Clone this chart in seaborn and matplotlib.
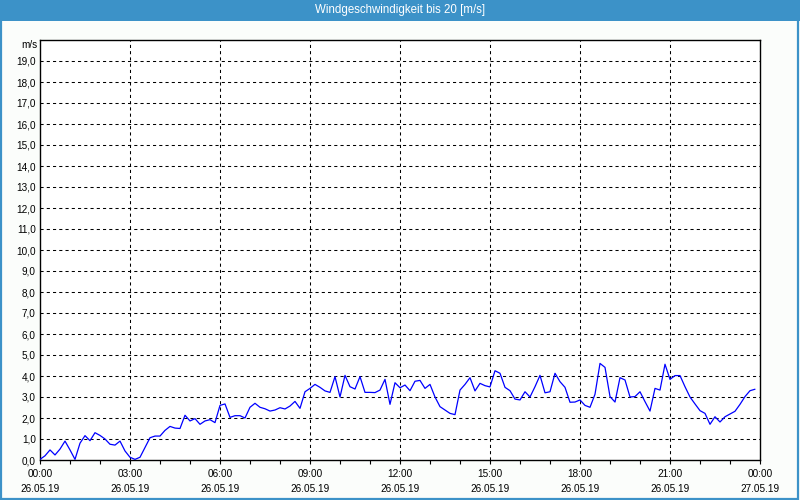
import numpy as np
import pandas as pd
import matplotlib
matplotlib.use("Agg")
import matplotlib.pyplot as plt
import seaborn as sns
from matplotlib.patches import Rectangle

# ---------------- data ----------------
title = "Windgeschwindigkeit bis 20 [m/s]"
unit_label = "m/s"
times = pd.date_range("2019-05-26 00:00", periods=144, freq="10min")
speed = [
    0.03, 0.20, 0.48, 0.24, 0.52, 0.90, 0.48, 0.03, 0.80, 1.16,
    0.92, 1.30, 1.17, 1.00, 0.75, 0.71, 0.90, 0.43, 0.13, 0.03,
    0.13, 0.60, 1.06, 1.14, 1.14, 1.41, 1.60, 1.52, 1.50, 2.13,
    1.86, 1.97, 1.70, 1.86, 1.92, 1.78, 2.60, 2.67, 2.03, 2.11,
    2.11, 2.00, 2.51, 2.70, 2.51, 2.44, 2.33, 2.38, 2.49, 2.43,
    2.57, 2.79, 2.46, 3.25, 3.41, 3.60, 3.46, 3.29, 3.22, 3.97,
    3.00, 4.03, 3.49, 3.38, 3.97, 3.22, 3.22, 3.21, 3.33, 3.84,
    2.65, 3.68, 3.44, 3.57, 3.30, 3.75, 3.79, 3.41, 3.60, 3.00,
    2.54, 2.38, 2.22, 2.16, 3.33, 3.60, 3.92, 3.29, 3.65, 3.54,
    3.48, 4.25, 4.13, 3.46, 3.30, 2.90, 2.86, 3.25, 3.00, 3.49,
    4.03, 3.20, 3.25, 4.13, 3.73, 3.46, 2.75, 2.76, 2.86, 2.60,
    2.51, 3.13, 4.60, 4.41, 3.02, 2.76, 3.92, 3.81, 3.00, 3.02,
    3.25, 2.78, 2.33, 3.41, 3.33, 4.56, 3.84, 4.02, 4.02, 3.49,
    3.00, 2.67, 2.35, 2.22, 1.70, 2.06, 1.81, 2.06, 2.19, 2.32,
    2.65, 3.02, 3.30, 3.37,
]
x_tick_hours = [0, 3, 6, 9, 12, 15, 18, 21, 24]
x_tick_labels = [
    "00:00\n26.05.19", "03:00\n26.05.19", "06:00\n26.05.19",
    "09:00\n26.05.19", "12:00\n26.05.19", "15:00\n26.05.19",
    "18:00\n26.05.19", "21:00\n26.05.19", "00:00\n27.05.19",
]
y_ticks = list(range(0, 20))
y_tick_labels = [f"{v},0" for v in y_ticks]

df = pd.DataFrame({
    "hour": (times - times[0]).total_seconds() / 3600.0,
    "speed": speed,
})

# ---------------- figure ----------------
sns.set_theme(style="white")
plt.rcParams["font.family"] = ["Liberation Sans", "DejaVu Sans"]

W, H = 800, 500
fig = plt.figure(figsize=(8, 5), dpi=100, facecolor="#fbfdfb")
blue = "#3c92c8"

# title bar
fig.patches.append(Rectangle((0, 1 - 21 / H), 1, 21 / H, transform=fig.transFigure,
                             facecolor=blue, edgecolor="none", zorder=0))
# outer border
fig.patches.append(Rectangle((0.5 / W, 1 / H), 1 - 2.5 / W, 1 - 2 / H,
                             transform=fig.transFigure, facecolor="none",
                             edgecolor=blue, linewidth=1.6, zorder=1))
fig.text(0.5, 1 - 10 / H, title, color="white", ha="center", va="center",
         fontsize=8.3)

ax = fig.add_axes([40 / W, 40 / H, 720 / W, 420 / H])
ax.set_facecolor("white")

sns.lineplot(data=df, x="hour", y="speed", ax=ax, color="#0000ff",
             linewidth=0.9, zorder=3)

ax.set_xlim(0, 24)
ax.set_ylim(0, 20)
ax.set_xticks(x_tick_hours)
ax.set_xticklabels(x_tick_labels, fontsize=7.2, linespacing=1.65)
ax.set_xticks(np.arange(0, 25, 1), minor=True)
ax.set_yticks(y_ticks)
ax.set_yticklabels(y_tick_labels, fontsize=7.2)
ax.set_xlabel("")
ax.set_ylabel("")

ax.tick_params(axis="x", which="both", direction="out", length=3, width=0.8,
               color="black", pad=3.5, labelcolor="black", bottom=True)
ax.tick_params(axis="y", which="both", length=0, pad=3, labelcolor="black")

ax.grid(False)
for h in x_tick_hours[1:-1]:
    ax.axvline(h, color="black", linewidth=0.75, linestyle=(0, (3, 3)), zorder=1)
for v in y_ticks[1:]:
    ax.axhline(v, color="black", linewidth=0.75, linestyle=(0, (3, 3)), zorder=1)

for s in ax.spines.values():
    s.set_visible(True)
    s.set_color("black")
    s.set_linewidth(1.0)

ax.text(-0.004, (460 - 45) / 420, unit_label, transform=ax.transAxes,
        ha="right", va="center", fontsize=7.2, color="black")

fig.savefig("out.png", dpi=100, facecolor=fig.get_facecolor())
